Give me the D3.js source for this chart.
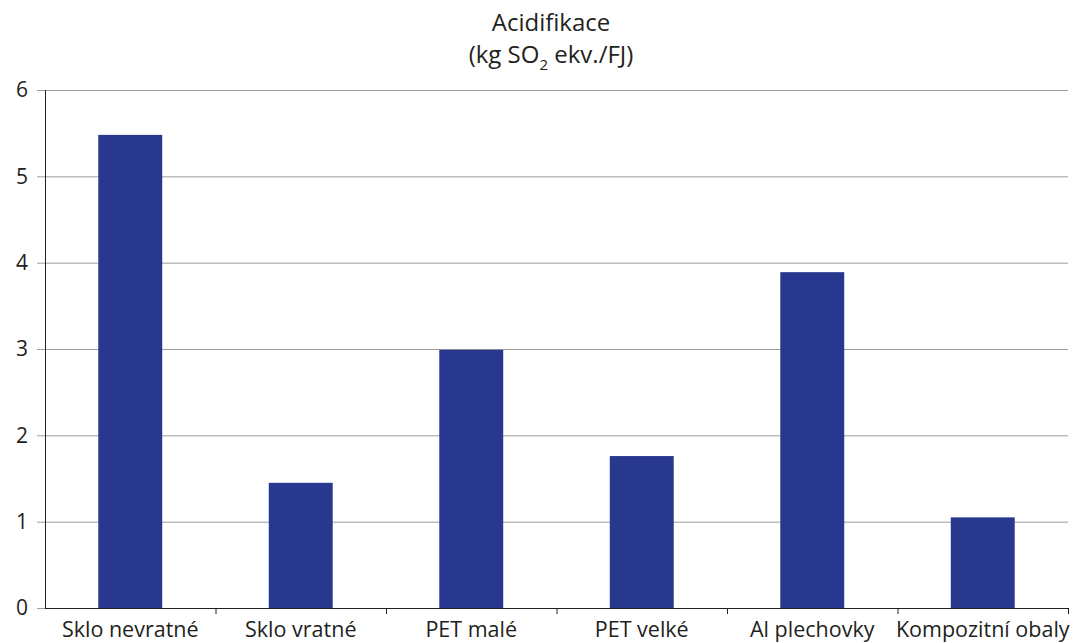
<!DOCTYPE html>
<html>
<head>
<meta charset="utf-8">
<script src="https://cdn.jsdelivr.net/npm/d3@7"></script>
<style>
  body { margin: 0; background: #fff; }
  text { font-family: "Open Sans", Lato, sans-serif; fill: #231f20; }
</style>
</head>
<body>
<svg id="chart" width="1074" height="643"></svg>
<script>
const categories = ["Sklo nevratné", "Sklo vratné", "PET malé", "PET velké", "Al plechovky", "Kompozitní obaly"];
const values = [5.48, 1.45, 2.99, 1.76, 3.89, 1.05];
const yTicks = [0, 1, 2, 3, 4, 5, 6];

const margin = { top: 90, right: 6, bottom: 35, left: 45 };
const width = 1074 - margin.left - margin.right;
const height = 643 - margin.top - margin.bottom;

const svg = d3.select("#chart");
const g = svg.append("g").attr("transform", "translate(" + margin.left + "," + margin.top + ")");

const x = d3.scaleBand().domain(categories).range([0, width]).paddingInner(0.625).paddingOuter(0.3125);
const xEdges = d3.scaleLinear().domain([0, categories.length]).range([0, width]);
const y = d3.scaleLinear().domain([0, 6]).range([height, 0]);

/* horizontal grid */
g.append("g")
  .call(d3.axisLeft(y).tickValues(yTicks.slice(1)).tickSize(-width).tickFormat(""))
  .call(s => s.select(".domain").remove())
  .selectAll("line").attr("stroke", "#9d9d9d").attr("stroke-width", 1);

/* bars */
g.selectAll("rect.bar")
  .data(values)
  .enter()
  .append("rect")
  .attr("class", "bar")
  .attr("x", (d, i) => x(categories[i]))
  .attr("width", x.bandwidth())
  .attr("y", d => y(d))
  .attr("height", d => height - y(d))
  .attr("fill", "#29388f");

/* y axis */
const yAxis = g.append("g")
  .call(d3.axisLeft(y).tickValues(yTicks).tickSize(8).tickPadding(9).tickFormat(d3.format("d")));
yAxis.select(".domain").attr("stroke", "#231f20").attr("d", "M0.5," + height + "V0");
yAxis.selectAll(".tick line").attr("stroke", "#9d9d9d");
yAxis.selectAll("text").style("font-size", "21px").attr("fill", "#231f20");

/* x axis with ticks at category boundaries */
const xAxis = g.append("g").attr("transform", "translate(0," + height + ")")
  .call(d3.axisBottom(xEdges).tickValues(d3.range(1, categories.length + 1)).tickSize(6).tickFormat(""));
xAxis.select(".domain").attr("stroke", "#231f20").attr("d", "M0," + 0.5 + "H" + width);
xAxis.selectAll(".tick line").attr("stroke", "#231f20");

g.append("g").attr("transform", "translate(0," + height + ")")
  .selectAll("text")
  .data(categories)
  .enter()
  .append("text")
  .attr("x", d => x(d) + x.bandwidth() / 2)
  .attr("y", 29)
  .attr("text-anchor", "middle")
  .style("font-size", "21.5px")
  .text(d => d);

/* title */
const title = svg.append("text").attr("x", 551).attr("y", 31).attr("text-anchor", "middle").style("font-size", "24px");
title.append("tspan").text("Acidifikace");
const t2 = svg.append("text").attr("x", 551).attr("y", 63).attr("text-anchor", "middle").style("font-size", "24px");
t2.append("tspan").text("(kg SO");
t2.append("tspan").attr("dy", 7).style("font-size", "15px").text("2");
t2.append("tspan").attr("dy", -7).text(" ekv./FJ)");
</script>
</body>
</html>
